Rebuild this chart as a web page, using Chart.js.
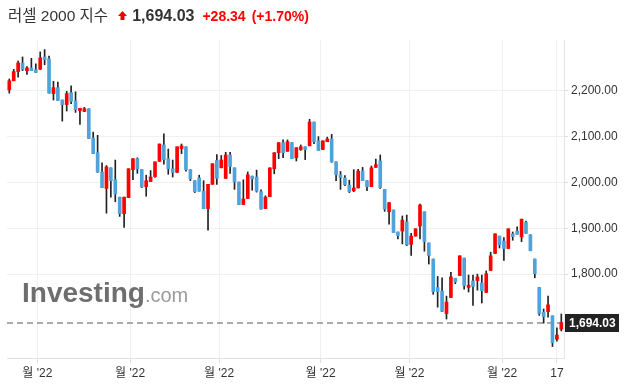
<!DOCTYPE html>
<html>
<head>
<meta charset="utf-8">
<script src="https://cdn.jsdelivr.net/npm/chart.js@4/dist/chart.umd.min.js"></script>
<style>
	html, body { margin: 0; padding: 0; background: #fff; }
	#wrap { position: relative; width: 628px; height: 385px; overflow: hidden; }
	#chart { position: absolute; left: 0; top: 0; }
	.head { position: absolute; left: 8px; top: 3px; display: flex; align-items: baseline; white-space: nowrap;
		font-family: "Liberation Sans", Arial, "Noto Sans CJK KR", sans-serif; }
	.head .name { font-size: 15.5px; color: #333; }
	.head .arrow { margin-left: 10px; width: 9px; height: 9px; align-self: center; margin-top: 2px; }
	.head .last { margin-left: 5px; font-size: 16px; font-weight: bold; color: #333; }
	.head .chg { margin-left: 8px; font-size: 14px; font-weight: bold; color: #f00; }
	.head .pct { margin-left: 6px; font-size: 14px; font-weight: bold; color: #f00; }
</style>
</head>
<body>
<div id="wrap">
	<canvas id="chart" width="628" height="385"></canvas>
	<div class="head">
		<span class="name">러셀 2000 지수</span>
		<svg class="arrow" viewBox="0 0 9 9"><polygon points="4.5,0 9,5 6.5,5 6.5,9 2.5,9 2.5,5 0,5" fill="#e00"/></svg>
		<span class="last">1,694.03</span>
		<span class="chg">+28.34</span>
		<span class="pct">(+1.70%)</span>
	</div>
</div>
<script>
// daily candles, Dec '21 .. Jun 17 '22
const opens = [
	2202, 2222, 2242, 2261, 2244, 2250, 2246, 2247, 2274, 2270,
	2194, 2207, 2180, 2170, 2196, 2178, 2157, 2155, 2161, 2097,
	2065, 2023, 1987, 2032, 2006, 1968, 1932, 1967, 2028, 2052,
	2028, 1991, 2002, 2013, 2046, 2082, 2052, 2030, 2022, 2074,
	2078, 2028, 2004, 2010, 1981, 1943, 1996, 2048, 2032, 2009,
	2060, 2032, 2001, 1952, 1965, 2014, 2012, 1980, 1943, 1969,
	2030, 2065, 2087, 2068, 2087, 2054, 2072, 2078, 2080, 2132,
	2091, 2072, 2089, 2095, 2045, 2017, 2010, 1994, 1982, 1988,
	2025, 2004, 1991, 2033, 2047, 1985, 1936, 1940, 1892, 1894,
	1914, 1865, 1883, 1905, 1936, 1868, 1833, 1771, 1763, 1714,
	1749, 1791, 1797, 1835, 1771, 1785, 1786, 1781, 1760, 1808,
	1845, 1883, 1872, 1856, 1888, 1894, 1881, 1913, 1886, 1833,
	1771, 1717, 1718, 1709, 1658, 1680
];
const highs = [
	2226, 2247, 2265, 2274, 2253, 2271, 2259, 2285, 2290, 2276,
	2221, 2219, 2180, 2199, 2211, 2198, 2162, 2164, 2161, 2110,
	2103, 2043, 2037, 2032, 2049, 1968, 1968, 2030, 2052, 2054,
	2028, 2016, 2026, 2045, 2084, 2106, 2073, 2049, 2078, 2084,
	2078, 2028, 2004, 2016, 2004, 1996, 2041, 2061, 2059, 2066,
	2066, 2032, 2001, 2006, 2023, 2014, 2027, 1984, 1971, 2032,
	2065, 2087, 2093, 2093, 2087, 2076, 2082, 2078, 2138, 2132,
	2100, 2091, 2099, 2105, 2045, 2024, 2015, 2005, 2028, 2029,
	2033, 2004, 2036, 2051, 2060, 1985, 1956, 1940, 1892, 1927,
	1929, 1889, 1899, 1953, 1936, 1868, 1833, 1795, 1792, 1752,
	1804, 1791, 1840, 1835, 1798, 1798, 1800, 1798, 1807, 1848,
	1888, 1883, 1880, 1899, 1892, 1903, 1920, 1916, 1886, 1833,
	1771, 1724, 1752, 1709, 1683, 1713
];
const lows = [
	2195, 2222, 2230, 2244, 2236, 2244, 2240, 2247, 2257, 2195,
	2180, 2179, 2134, 2156, 2172, 2153, 2127, 2155, 2096, 2063,
	2022, 1989, 1933, 1968, 1958, 1926, 1902, 1967, 2006, 2020,
	1989, 1970, 2002, 2011, 2046, 2040, 2018, 2012, 2022, 2063,
	2025, 2004, 1978, 1981, 1943, 1896, 1996, 1996, 2032, 2009,
	2020, 1985, 1952, 1952, 1965, 1983, 1979, 1942, 1943, 1969,
	2019, 2052, 2054, 2068, 2052, 2047, 2070, 2050, 2080, 2085,
	2070, 2072, 2089, 2044, 2004, 1985, 1993, 1978, 1980, 1988,
	2004, 1982, 1991, 2033, 1987, 1937, 1909, 1891, 1877, 1866,
	1862, 1841, 1883, 1877, 1850, 1822, 1756, 1728, 1718, 1702,
	1749, 1779, 1797, 1767, 1761, 1732, 1765, 1737, 1760, 1808,
	1845, 1857, 1830, 1856, 1874, 1887, 1871, 1889, 1851, 1792,
	1710, 1693, 1706, 1642, 1654, 1676
];
const closes = [
	2222, 2242, 2261, 2247, 2250, 2244, 2240, 2272, 2268, 2195,
	2207, 2179, 2170, 2194, 2177, 2159, 2162, 2161, 2096, 2063,
	2023, 1989, 2034, 2004, 1975, 1932, 1968, 2030, 2052, 2030,
	1990, 2004, 2012, 2045, 2084, 2050, 2030, 2022, 2078, 2080,
	2028, 2008, 1980, 1981, 1943, 1996, 2041, 2009, 2049, 2060,
	2035, 2001, 1952, 1964, 2017, 2008, 1981, 1942, 1968, 2032,
	2065, 2087, 2065, 2089, 2052, 2076, 2078, 2072, 2132, 2089,
	2070, 2091, 2095, 2045, 2017, 2011, 1995, 1980, 1988, 2025,
	2004, 1991, 2032, 2039, 1989, 1942, 1956, 1891, 1884, 1918,
	1864, 1883, 1899, 1951, 1871, 1841, 1762, 1762, 1719, 1739,
	1794, 1783, 1840, 1775, 1776, 1773, 1794, 1764, 1801, 1840,
	1888, 1864, 1856, 1899, 1882, 1887, 1920, 1889, 1851, 1801,
	1714, 1707, 1733, 1650, 1667, 1694.03
];

const lastPrice = 1694.03;
const yTicks = [1800, 1900, 2000, 2100, 2200];
// month ticks sit between candles (candle index units)
const monthTicks = [6.35, 27.35, 47.5, 70.5, 90.6, 111.6, 124];
const monthLabels = ["월 '22", "월 '22", "월 '22", "월 '22", "월 '22", "월 '22", "17"];

const UP = '#ff0000';
const DOWN = '#4fa3dc';
const WICK = '#222222';
const FONT = '"Liberation Sans", Arial, "Noto Sans CJK KR", sans-serif';

// build floating bar data from the ohlc arrays
var bodies = [], wicks = [], bodyColors = [];
for (var i = 0; i < closes.length; i++) {
	bodies.push({ x: i, y: [opens[i], closes[i]] });
	wicks.push({ x: i, y: [lows[i], highs[i]] });
	bodyColors.push(closes[i] >= opens[i] ? UP : DOWN);
}

const fmt = v => v.toLocaleString('en-US', { minimumFractionDigits: 2, maximumFractionDigits: 2 });

// dashed last price line + watermark, under the candles
const underlay = {
	id: 'underlay',
	beforeDatasetsDraw(chart) {
		const ctx = chart.ctx, area = chart.chartArea;
		ctx.save();
		ctx.font = 'bold 28px ' + FONT;
		ctx.fillStyle = '#6e6e6e';
		ctx.textBaseline = 'alphabetic';
		ctx.fillText('Investing', 22, 302);
		var w = ctx.measureText('Investing').width;
		ctx.font = '20px ' + FONT;
		ctx.fillStyle = '#9a9a9a';
		ctx.fillText('.com', 22 + w, 302);

		var y = Math.round(chart.scales.y.getPixelForValue(lastPrice));
		ctx.strokeStyle = '#aaaaaa';
		ctx.lineWidth = 2;
		ctx.setLineDash([6, 4]);
		ctx.beginPath();
		ctx.moveTo(area.left, y);
		ctx.lineTo(area.right, y);
		ctx.stroke();
		ctx.restore();
	}
};

// dark price tag on the right axis
const priceTag = {
	id: 'priceTag',
	afterDraw(chart) {
		const ctx = chart.ctx;
		var y = chart.scales.y.getPixelForValue(lastPrice);
		ctx.save();
		ctx.fillStyle = '#222';
		ctx.fillRect(565, Math.round(y) - 9, 54, 18);
		ctx.fillStyle = '#fff';
		ctx.font = 'bold 12px ' + FONT;
		ctx.textBaseline = 'middle';
		ctx.fillText(fmt(lastPrice), 569, y + 0.5);
		ctx.restore();
	}
};

new Chart(document.getElementById('chart'), {
	type: 'bar',
	data: {
		datasets: [
			{
				data: bodies,
				backgroundColor: bodyColors,
				borderWidth: 0,
				barThickness: 3,
				minBarLength: 1,
				grouped: false,
				order: 0
			},
			{
				data: wicks,
				backgroundColor: WICK,
				borderWidth: 0,
				barThickness: 1,
				grouped: false,
				order: 1
			}
		]
	},
	options: {
		responsive: false,
		animation: false,
		devicePixelRatio: 1,
		layout: { padding: { left: 7, top: 40, right: 0, bottom: 0 } },
		plugins: { legend: { display: false }, tooltip: { enabled: false } },
		scales: {
			x: {
				type: 'linear',
				offset: false,
				min: -0.52,
				max: 125.61,
				afterBuildTicks: s => { s.ticks = monthTicks.map(v => ({ value: v })); },
				afterFit: s => { s.height = 27; },
				ticks: {
					autoSkip: false,
					maxRotation: 0,
					padding: 3,
					color: '#333',
					font: { family: FONT, size: 12 },
					callback: (v, i) => monthLabels[i]
				},
				grid: { offset: false, color: '#f0f0f0', tickColor: '#dcdce4', tickLength: 5 },
				border: { color: '#e2e2ea' }
			},
			y: {
				position: 'right',
				min: 1617,
				max: 2311,
				afterBuildTicks: s => { s.ticks = yTicks.map(v => ({ value: v })); },
				afterFit: s => { s.width = 64; },
				ticks: {
					padding: 3,
					color: '#333',
					font: { family: FONT, size: 12 },
					callback: v => fmt(v)
				},
				grid: { color: '#f0f0f0', tickColor: '#dcdce4', tickLength: 4 },
				border: { color: '#e2e2ea' }
			}
		}
	},
	plugins: [underlay, priceTag]
});
</script>
</body>
</html>
